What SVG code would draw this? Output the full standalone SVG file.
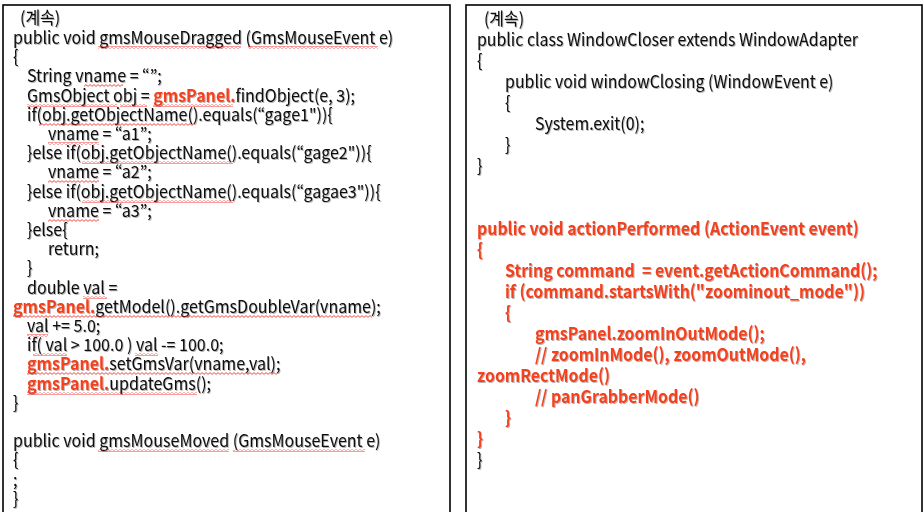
<svg xmlns="http://www.w3.org/2000/svg" width="924" height="512" viewBox="0 0 924 512">
<defs>
<filter id="sh" x="-5%" y="-20%" width="110%" height="150%">
<feDropShadow dx="1" dy="1" stdDeviation="0.6" flood-color="#000" flood-opacity="0.3"/>
</filter>
<pattern id="sq" width="4" height="3" patternUnits="userSpaceOnUse">
<path d="M0,2.4 L2,0.6 L4,2.4" fill="none" stroke="#E8201A" stroke-width="0.8"/>
</pattern>
</defs>
<style>
.box{fill:#fff;stroke:#000;stroke-width:1.6}
.t{font-family:"Noto Sans CJK KR","Noto Sans",sans-serif;fill:#0a0a0a;filter:url(#sh)}
.l{font-size:17px}
.r{font-size:17.5px}
.red{fill:#F4401C;font-weight:bold}
.sq{fill:url(#sq)}
</style>
<rect width="924" height="512" fill="#fff"/>
<g id="left-panel">
<rect class="box" x="3" y="5" width="447" height="520"/>
<g class="t l" transform="matrix(0.943 0 0 1 0.741 0)">
<text x="20.4" y="24">(계속)</text>
<text x="13" y="44">public void gmsMouseDragged (GmsMouseEvent e)</text>
<text x="13" y="63">{</text>
<text x="27.85" y="82">String vname = “”;</text>
<text x="27.85" y="102">GmsObject obj = <tspan class="red">gmsPanel.</tspan>findObject(e, 3);</text>
<text x="27.85" y="121">if(obj.getObjectName().equals(“gage1")){</text>
<text x="50.1" y="140">vname = “a1”;</text>
<text x="27.85" y="159">}else if(obj.getObjectName().equals(“gage2")){</text>
<text x="50.1" y="178">vname = “a2”;</text>
<text x="27.85" y="198">}else if(obj.getObjectName().equals(“gagae3")){</text>
<text x="50.1" y="217">vname = “a3”;</text>
<text x="27.85" y="236">}else{</text>
<text x="50.1" y="255">return;</text>
<text x="27.85" y="274">}</text>
<text x="27.85" y="294">double val =</text>
<text x="13" y="313"><tspan class="red">gmsPanel.</tspan>getModel().getGmsDoubleVar(vname);</text>
<text x="27.85" y="332">val += 5.0;</text>
<text x="27.85" y="351">if( val &gt; 100.0 ) val -= 100.0;</text>
<text x="27.85" y="370"><tspan class="red">gmsPanel.</tspan>setGmsVar(vname,val);</text>
<text x="27.85" y="390"><tspan class="red">gmsPanel.</tspan>updateGms();</text>
<text x="13" y="409">}</text>
<text x="13" y="447">public void gmsMouseMoved (GmsMouseEvent e)</text>
<text x="13" y="466">{</text>
<text x="13" y="486">;</text>
<text x="13" y="505">}</text>
</g>
<g id="spell-marks">
<rect class="sq" x="98" y="46" width="143" height="3"/>
<rect class="sq" x="248" y="46" width="130" height="3"/>
<rect class="sq" x="84" y="84" width="39" height="3"/>
<rect class="sq" x="27" y="104" width="90" height="3"/>
<rect class="sq" x="120" y="104" width="27" height="3"/>
<rect class="sq" x="153" y="104" width="80" height="3"/>
<rect class="sq" x="39" y="123" width="156" height="3"/>
<rect class="sq" x="48" y="142" width="51" height="3"/>
<rect class="sq" x="82" y="161" width="151" height="3"/>
<rect class="sq" x="48" y="180" width="51" height="3"/>
<rect class="sq" x="82" y="200" width="151" height="3"/>
<rect class="sq" x="48" y="219" width="51" height="3"/>
<rect class="sq" x="83" y="296" width="24" height="3"/>
<rect class="sq" x="13" y="315" width="359" height="3"/>
<rect class="sq" x="27" y="334" width="21" height="3"/>
<rect class="sq" x="33" y="353" width="34" height="3"/>
<rect class="sq" x="135" y="353" width="23" height="3"/>
<rect class="sq" x="27" y="372" width="251" height="3"/>
<rect class="sq" x="27" y="392" width="170" height="3"/>
<rect class="sq" x="98" y="449" width="131" height="3"/>
<rect class="sq" x="233" y="449" width="132" height="3"/>
</g>
</g>
<g id="right-panel">
<rect class="box" x="466" y="5" width="456" height="520"/>
<g class="t r" transform="matrix(0.91 0 0 1 42.93 0)">
<text x="484.7" y="25">(계속)</text>
<text x="477" y="46">public class WindowCloser extends WindowAdapter</text>
<text x="477" y="67">{</text>
<text x="507.8" y="88">public void windowClosing (WindowEvent e)</text>
<text x="507.8" y="109">{</text>
<text x="540.7" y="130">System.exit(0);</text>
<text x="507.8" y="151">}</text>
<text x="477" y="172">}</text>
<g class="red">
<text x="477" y="235">public void actionPerformed (ActionEvent event)</text>
<text x="477" y="256">{</text>
<text x="507.8" y="277" xml:space="preserve">String command  = event.getActionCommand();</text>
<text x="507.8" y="298">if (command.startsWith("zoominout_mode"))</text>
<text x="507.8" y="319">{</text>
<text x="540.7" y="340">gmsPanel.zoomInOutMode();</text>
<text x="540.7" y="361">// zoomInMode(), zoomOutMode(),</text>
<text x="477" y="382">zoomRectMode()</text>
<text x="540.7" y="403">// panGrabberMode()</text>
<text x="507.8" y="424">}</text>
<text x="477" y="445">}</text>
</g>
<text x="477" y="466">}</text>
</g>
</g>
</svg>
